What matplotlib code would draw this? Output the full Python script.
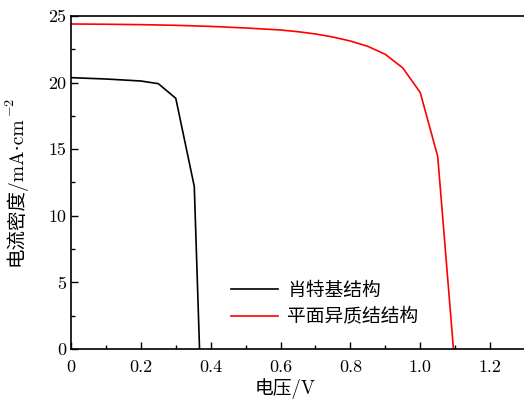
import matplotlib
matplotlib.use("Agg")
import matplotlib.pyplot as plt
from matplotlib.ticker import MultipleLocator

plt.rcParams['font.family'] = ['cmr10', 'Noto Sans CJK SC', 'DejaVu Sans']
plt.rcParams['mathtext.fontset'] = 'cm'
plt.rcParams['axes.formatter.use_mathtext'] = True
plt.rcParams['axes.unicode_minus'] = False

schottky_v = [0.0, 0.1, 0.2, 0.25, 0.3, 0.353, 0.368]
schottky_j = [20.37, 20.27, 20.12, 19.92, 18.82, 12.2, 0.0]

planar_v = [0.0, 0.1, 0.2, 0.3, 0.4, 0.5, 0.6, 0.65, 0.7, 0.75, 0.8, 0.85, 0.9, 0.95, 1.0, 1.05, 1.095]
planar_j = [24.4, 24.38, 24.35, 24.3, 24.22, 24.1, 23.95, 23.82, 23.65, 23.42, 23.12, 22.72, 22.12, 21.1, 19.25, 14.45, 0.0]

labels = ['肖特基结构', '平面异质结结构']
xticks = [0, 0.2, 0.4, 0.6, 0.8, 1.0, 1.2]
xticklabels = ['0', '0.2', '0.4', '0.6', '0.8', '1.0', '1.2']
yticks = [0, 5, 10, 15, 20, 25]
yticklabels = ['0', '5', '10', '15', '20', '25']

fig = plt.figure(figsize=(5.24, 4.07), dpi=100)
ax = fig.add_axes([0.1355, 0.1425, 0.8665, 0.8182])
ax.plot(schottky_v, schottky_j, color='black', lw=1.2, label=labels[0])
ax.plot(planar_v, planar_j, color='#ff0000', lw=1.2, label=labels[1])

ax.set_xlim(0, 1.3)
ax.set_ylim(0, 25)
ax.set_xticks(xticks)
ax.set_xticklabels(xticklabels)
ax.set_yticks(yticks)
ax.set_yticklabels(yticklabels)
ax.xaxis.set_minor_locator(MultipleLocator(0.1))
ax.yaxis.set_minor_locator(MultipleLocator(2.5))
ax.tick_params(which='both', direction='in', top=False, right=False, labelsize=13)
ax.tick_params(which='major', length=5, width=1)
ax.tick_params(which='minor', length=3, width=1)
ax.tick_params(axis='x', which='major', pad=8)
for s in ax.spines.values():
    s.set_linewidth(1.2)

ax.set_xlabel('电压/V', fontsize=13.5)
ax.xaxis.set_label_coords(0.471, -0.088)
ylab = ax.set_ylabel('电流密度/mA·cm', fontsize=14,
                     family=['cmr10', 'DejaVu Serif', 'Noto Sans CJK SC'])
ax.yaxis.set_label_coords(-0.098, 0.474)

leg = ax.legend(loc='lower left', bbox_to_anchor=(0.315, 0.017), frameon=False,
                fontsize=13.5, handlelength=2.5, handletextpad=0.5, labelspacing=0.45)

fig.canvas.draw()
bb = ylab.get_window_extent(fig.canvas.get_renderer())
inv = fig.transFigure.inverted()
x0, y1 = inv.transform((bb.x0 - 1, bb.y1 - 1))
fig.text(x0, y1, r'$-2$', fontsize=10, rotation=90, ha='left', va='bottom')

fig.savefig('out.png', dpi=100)
